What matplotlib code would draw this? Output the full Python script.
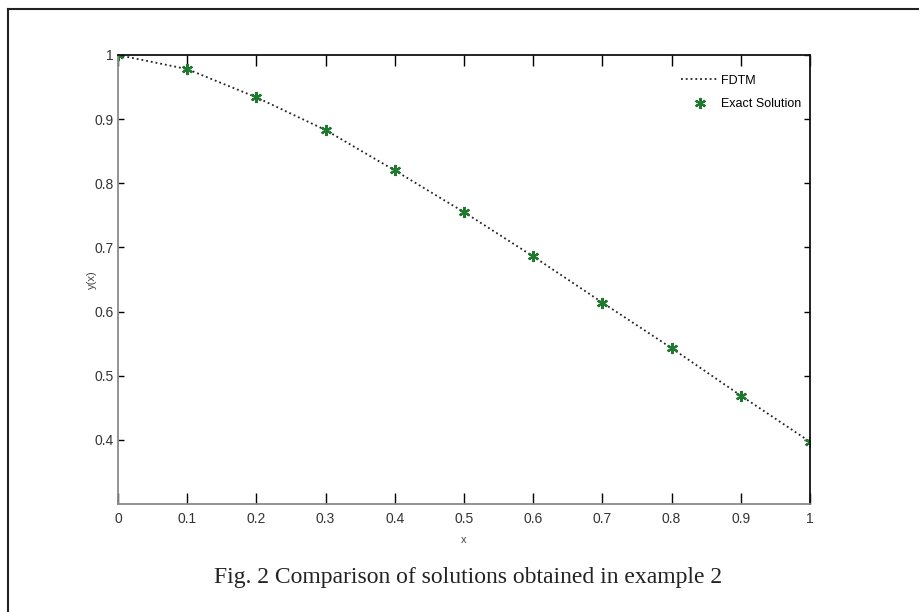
import numpy as np
import matplotlib
matplotlib.use('Agg')
import matplotlib.pyplot as plt
from matplotlib.lines import Line2D

# values
x_vals = [0.0, 0.1, 0.2, 0.3, 0.4, 0.5, 0.6, 0.7, 0.8, 0.9, 1.0]
fdtm = [1.0, 0.978, 0.934, 0.883, 0.820, 0.755, 0.686, 0.614, 0.543, 0.469, 0.397]
exact = [1.0, 0.978, 0.934, 0.883, 0.820, 0.755, 0.686, 0.614, 0.543, 0.469, 0.397]
x_ticks = [0, 0.1, 0.2, 0.3, 0.4, 0.5, 0.6, 0.7, 0.8, 0.9, 1]
x_tick_labels = ['0', '0.1', '0.2', '0.3', '0.4', '0.5', '0.6', '0.7', '0.8', '0.9', '1']
y_ticks = [0.4, 0.5, 0.6, 0.7, 0.8, 0.9, 1]
y_tick_labels = ['0.4', '0.5', '0.6', '0.7', '0.8', '0.9', '1']
caption = 'Fig. 2 Comparison of solutions obtained in example 2'

sans = ['Liberation Sans', 'DejaVu Sans']

fig = plt.figure(figsize=(9.2, 6.12), dpi=100)
ax = fig.add_axes([118 / 920, 108 / 612, 692 / 920, 449 / 612])

ax.plot(x_vals, fdtm, linestyle=':', color='#222222', linewidth=1.3, label='FDTM')
ax.plot(x_vals, exact, linestyle='none', marker=(6, 2, 0), markersize=8,
        markeredgewidth=1.6, color='#1f7a30', label='Exact Solution')

ax.set_xlim(0, 1)
ax.set_ylim(0.3, 1)
ax.set_xticks(x_ticks)
ax.set_xticklabels(x_tick_labels, family=sans, fontsize=10, color='#333333')
ax.set_yticks(y_ticks)
ax.set_yticklabels(y_tick_labels, family=sans, fontsize=10, color='#333333')
ax.tick_params(axis='x', direction='in', length=8, width=1, top=True, pad=6)
ax.tick_params(axis='y', direction='in', length=4, width=1, right=True, pad=3)

for side in ['left', 'bottom']:
    ax.spines[side].set_color('#8a8a8a')
    ax.spines[side].set_linewidth(1.3)
for side in ['top', 'right']:
    ax.spines[side].set_color('#111111')
    ax.spines[side].set_linewidth(1.3)

ax.set_xlabel('x', family=sans, fontsize=8, color='#444444', labelpad=6)
ax.set_ylabel('y(x)', family=sans, fontsize=8, color='#444444', labelpad=-2)

leg = ax.legend(loc='upper right', bbox_to_anchor=(0.994, 0.967), frameon=False,
                prop={'family': sans, 'size': 9}, handlelength=3.0,
                borderaxespad=0, labelspacing=0.9, handletextpad=0.15,
                borderpad=0.4)

fig.text(468 / 920, 1 - 578 / 612, caption, family='Liberation Serif',
         fontsize=17, color='#222222', ha='center', va='center')

# outer frame of the figure (left and top edges)
fig.add_artist(Line2D([8 / 920, 8 / 920], [0, 1 - 9 / 612], color='#222222', linewidth=1.5))
fig.add_artist(Line2D([8 / 920, 1], [1 - 9 / 612, 1 - 9 / 612], color='#222222', linewidth=1.5))

fig.savefig('out.png', dpi=100)
